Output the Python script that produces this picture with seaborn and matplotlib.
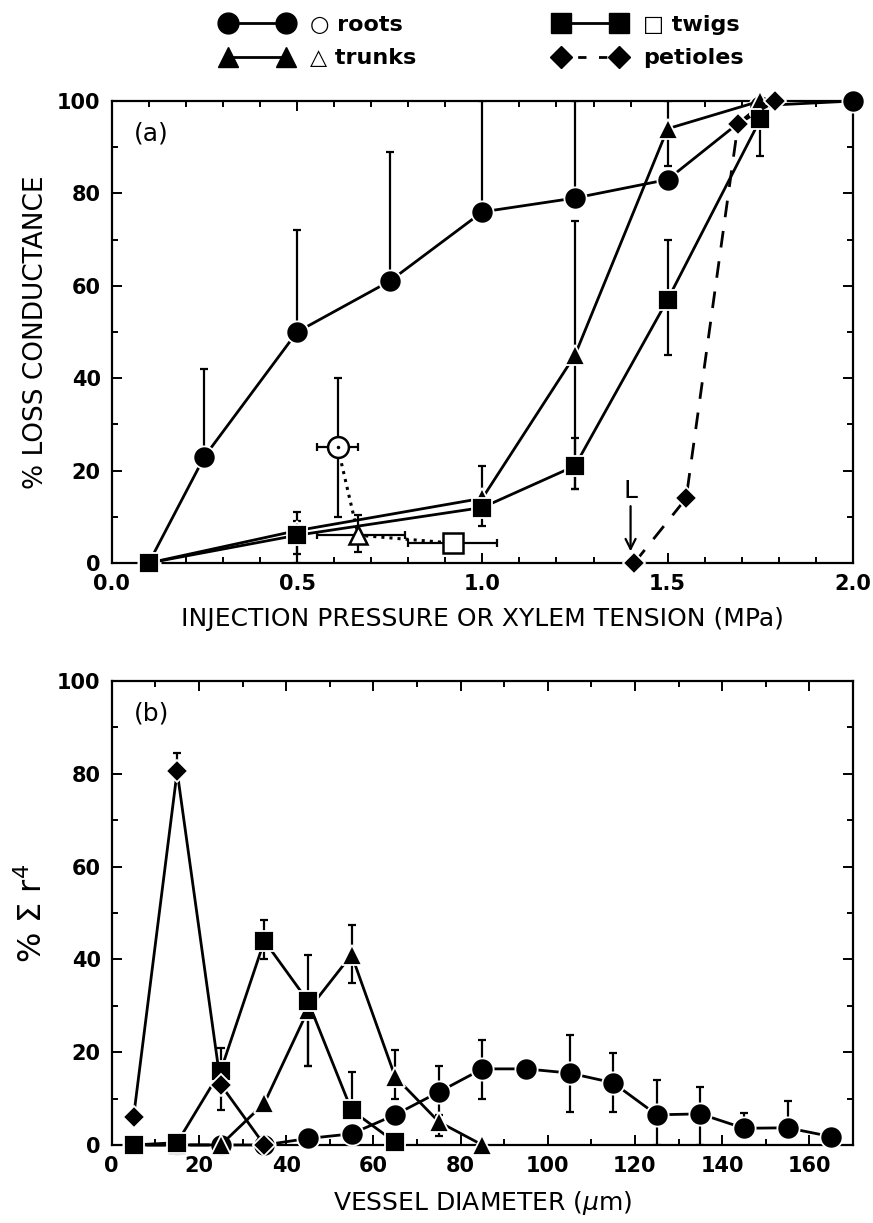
"""Loss of conductance vs pressure (a) and vessel diameter distribution (b)."""
import matplotlib.pyplot as plt
from matplotlib.lines import Line2D
from matplotlib.ticker import MultipleLocator
import seaborn as sns

# ---- panel (a): % loss conductance vs injection pressure / xylem tension
roots_p = [0.1, 0.25, 0.5, 0.75, 1.0, 1.25, 1.5, 1.75, 2.0]
roots_loss = [0, 23, 50, 61, 76, 79, 83, 99, 100]
roots_lo = [0, 0, 0, 0, 0, 0, 0, 0, 0]
roots_hi = [0, 19, 22, 28, 24, 21, 0, 0, 0]

trunks_p = [0.1, 0.5, 1.0, 1.25, 1.5, 1.75]
trunks_loss = [0, 7, 14, 45, 94, 100]
trunks_lo = [0, 7, 0, 29, 8, 0]
trunks_hi = [0, 4, 7, 29, 6, 0]

twigs_p = [0.1, 0.5, 1.0, 1.25, 1.5, 1.75]
twigs_loss = [0, 6, 12, 21, 57, 96]
twigs_lo = [0, 4, 4, 5, 12, 8]
twigs_hi = [0, 3, 2, 6, 13, 0]

petioles_p = [1.41, 1.55, 1.69, 1.79]
petioles_loss = [0, 14, 95, 100]

# open symbols: roots, trunks, twigs measured by xylem tension
open_p = [0.61, 0.665, 0.92]
open_loss = [25, 6, 4.3]
open_xlo = [0.055, 0.11, 0.12]
open_xhi = [0.055, 0.125, 0.12]
open_ylo = [15, 3.6, 0]
open_yhi = [15, 4.4, 0]

# ---- panel (b): % sum r^4 by vessel diameter class
diam = [5, 15, 25, 35, 45, 55, 65, 75, 85, 95, 105, 115, 125, 135, 145, 155, 165]
roots_r4 = [0, 0, 0, 0, 1.4, 2.4, 6.5, 11.4, 16.4, 16.4, 15.5, 13.4, 6.5, 6.7, 3.6, 3.7, 1.8]
roots_r4_lo = [0, 0, 0, 0, 0, 0, 0, 5, 6.4, 0, 8.5, 6.4, 6.5, 6.7, 0, 0, 0]
roots_r4_hi = [0, 0, 0, 0, 0, 0, 0, 5.6, 6.2, 0, 8.2, 6.4, 7.5, 5.8, 3.3, 5.8, 0]

twigs_d = [5, 15, 25, 35, 45, 55, 65]
twigs_r4 = [0, 0.5, 16, 44, 31, 7.5, 0.6]
twigs_r4_lo = [0, 0, 8.5, 4, 14, 0, 0]
twigs_r4_hi = [0, 0, 5, 4.5, 10, 8.2, 0]

trunks_d = [5, 15, 25, 35, 45, 55, 65, 75, 85]
trunks_r4 = [0, 0, 0, 9, 29, 41, 14.7, 5, 0]
trunks_r4_lo = [0, 0, 0, 0, 12, 6, 4.7, 3, 0]
trunks_r4_hi = [0, 0, 0, 0, 0, 6.4, 5.8, 0, 0]

petioles_d = [5, 15, 25, 35]
petioles_r4 = [6, 80.5, 13, 0]
petioles_r4_lo = [0, 0, 0, 0]
petioles_r4_hi = [0, 4, 0, 0]

sns.set_style('ticks')
plt.rcParams['font.family'] = ['DejaVu Sans']
plt.rcParams['mathtext.fontset'] = 'dejavusans'
for key in ('text.color', 'axes.labelcolor', 'xtick.color', 'ytick.color', 'axes.edgecolor'):
    plt.rcParams[key] = 'black'

fig = plt.figure(figsize=(8.73, 12.23), dpi=100)
ax_a = fig.add_axes([0.128, 0.5397, 0.849, 0.3777])
ax_b = fig.add_axes([0.128, 0.0638, 0.849, 0.3794])

LW = 2.0
mk = dict(color='black', linewidth=LW, markeredgecolor='white',
          markeredgewidth=1.3, clip_on=False, zorder=4)


def draw(ax, x, y, marker, ms, lo=None, hi=None, ls='-'):
    sns.lineplot(x=x, y=y, ax=ax, marker=marker, markersize=ms,
                 linestyle=ls, sort=False, legend=False, **mk)
    if lo is not None:
        ax.errorbar(x, y, yerr=[lo, hi], fmt='none', ecolor='black',
                    elinewidth=1.6, capsize=3, capthick=1.6, zorder=3)


# panel (a)
draw(ax_a, roots_p, roots_loss, 'o', 16, roots_lo, roots_hi)
draw(ax_a, trunks_p, trunks_loss, '^', 14, trunks_lo, trunks_hi)
draw(ax_a, twigs_p, twigs_loss, 's', 14, twigs_lo, twigs_hi)
draw(ax_a, petioles_p, petioles_loss, 'D', 11, ls=(0, (6, 5)))

ax_a.plot(open_p, open_loss, color='black', linestyle=':', linewidth=2.2, zorder=2)
ax_a.errorbar(open_p, open_loss, xerr=[open_xlo, open_xhi], yerr=[open_ylo, open_yhi],
              fmt='none', ecolor='black', elinewidth=1.6, capsize=3, capthick=1.6, zorder=3)
for xv, yv, m, s in zip(open_p, open_loss, ['o', '^', 's'], [15, 13, 14]):
    ax_a.plot([xv], [yv], marker=m, markersize=s, markerfacecolor='white',
              markeredgecolor='black', markeredgewidth=1.8, linestyle='none', zorder=5)
ax_a.plot([open_p[0]], [open_loss[0]], marker='.', markersize=3, color='black', zorder=6)

ax_a.annotate('L', xy=(1.4, 2.5), xytext=(1.4, 13), fontsize=18, ha='center', va='bottom',
              arrowprops=dict(arrowstyle='->', color='black', lw=1.6, shrinkA=0, shrinkB=0))

ax_a.set_xlim(0, 2.0)
ax_a.set_ylim(0, 100)
ax_a.xaxis.set_major_locator(MultipleLocator(0.5))
ax_a.xaxis.set_minor_locator(MultipleLocator(0.1))
ax_a.yaxis.set_major_locator(MultipleLocator(20))
ax_a.yaxis.set_minor_locator(MultipleLocator(10))
ax_a.xaxis.set_major_formatter(plt.FuncFormatter(lambda v, p: f'{v:.1f}'))
ax_a.set_xlabel('INJECTION PRESSURE OR XYLEM TENSION (MPa)', fontsize=18, labelpad=9)
ax_a.set_ylabel('% LOSS CONDUCTANCE', fontsize=19, labelpad=6)
ax_a.text(0.03, 0.955, '(a)', transform=ax_a.transAxes, fontsize=18, va='top')

# panel (b)
draw(ax_b, diam, roots_r4, 'o', 16, roots_r4_lo, roots_r4_hi)
draw(ax_b, trunks_d, trunks_r4, '^', 14, trunks_r4_lo, trunks_r4_hi)
draw(ax_b, twigs_d, twigs_r4, 's', 14, twigs_r4_lo, twigs_r4_hi)
draw(ax_b, petioles_d, petioles_r4, 'D', 11, petioles_r4_lo, petioles_r4_hi)

ax_b.set_xlim(0, 170)
ax_b.set_ylim(0, 100)
ax_b.xaxis.set_major_locator(MultipleLocator(20))
ax_b.xaxis.set_minor_locator(MultipleLocator(10))
ax_b.yaxis.set_major_locator(MultipleLocator(20))
ax_b.yaxis.set_minor_locator(MultipleLocator(10))
ax_b.set_xlabel(r'VESSEL DIAMETER ($\mu$m)', fontsize=18, labelpad=9)
ax_b.set_ylabel(r'% $\Sigma$ r$^{4}$', fontsize=23, labelpad=6)
ax_b.text(0.03, 0.955, '(b)', transform=ax_b.transAxes, fontsize=18, va='top')

for ax in (ax_a, ax_b):
    for side in ax.spines.values():
        side.set_linewidth(1.6)
        side.set_visible(True)
    ax.tick_params(which='both', direction='in', top=True, right=True, width=1.4)
    ax.tick_params(which='major', length=7, labelsize=15, pad=8)
    ax.tick_params(which='minor', length=4)
    for lab in ax.get_xticklabels() + ax.get_yticklabels():
        lab.set_fontweight('bold')

# legend across the top
hkw = dict(color='black', linewidth=LW)
handles = [
    Line2D([], [], marker='o', markersize=15, **hkw),
    Line2D([], [], marker='^', markersize=14, **hkw),
    Line2D([], [], marker='s', markersize=14, **hkw),
    Line2D([], [], marker='D', markersize=11, linestyle=(1.5, (3, 4.5)), **hkw),
]
labels = ['\u25cb roots', '\u25b3 trunks', '\u25a1 twigs', 'petioles']
fig.legend(handles, labels, loc='upper center', bbox_to_anchor=(0.553, 1.004), ncol=2,
           frameon=False, numpoints=2, handlelength=3.2, columnspacing=6.2,
           handletextpad=0.8, labelspacing=0.6, prop=dict(size=16, weight='bold'))

fig.savefig('out.png', dpi=100)
